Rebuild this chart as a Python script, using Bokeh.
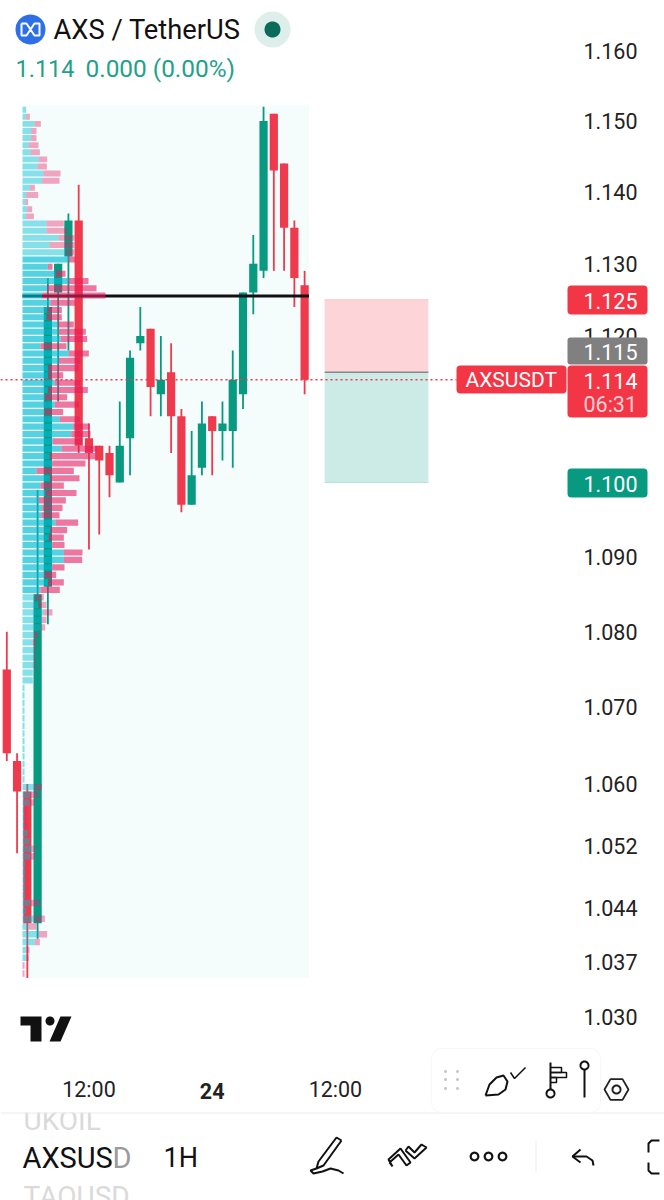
import math
from bokeh.plotting import figure
from bokeh.embed import file_html
from bokeh.resources import INLINE
from bokeh.models import (Range1d, FixedTicker, ColumnDataSource,
                          Label, BoxAnnotation, PolyAnnotation)

# ---- data ----
bar_index = list(range(30))
opens  = [1.075,1.063,1.059,1.042,1.086,1.126,1.131,1.136,1.106,1.105,1.104,1.100,1.106,1.119,1.121,1.112,1.115,1.109,1.097,1.102,1.109,1.107,1.107,1.112,1.126,1.129,1.151,1.144,1.135,1.127]
closes = [1.064,1.059,1.042,1.085,1.124,1.130,1.136,1.105,1.104,1.103,1.101,1.105,1.117,1.120,1.113,1.114,1.109,1.097,1.101,1.108,1.107,1.108,1.114,1.126,1.130,1.150,1.143,1.135,1.128,1.114]
highs  = [1.080,1.064,1.060,1.099,1.128,1.130,1.137,1.141,1.108,1.105,1.105,1.111,1.118,1.124,1.121,1.120,1.119,1.110,1.107,1.111,1.109,1.111,1.118,1.126,1.134,1.152,1.151,1.144,1.136,1.129]
lows   = [1.063,1.051,1.035,1.040,1.081,1.111,1.118,1.104,1.091,1.093,1.098,1.100,1.101,1.118,1.109,1.109,1.104,1.096,1.097,1.101,1.101,1.103,1.102,1.110,1.123,1.128,1.129,1.129,1.124,1.112]

vp_top_price = 1.152
vp_step = 0.001
vp_buy  = [11,11,36,26,26,19,25,49,45,63,59,22,11,9,14,11,72,72,109,81,129,139,76,99,139,74,59,84,74,72,
           106,109,114,54,139,109,77,77,97,76,67,97,66,112,152,146,91,117,82,89,42,82,54,69,49,59,56,99,84,79,
           89,124,124,89,66,77,54,37,47,62,58,56,34,31,34,34,34,31,31,6,6,6,6,6,6,6,6,6,6,6,6,6,
           34,24,22,6,6,6,16,22,29,24,9,9,9,9,9,24,12,34,19,49,37,12,12,0,0]
vp_sell = [0,11,19,16,16,29,27,25,28,51,52,15,36,8,15,23,52,62,47,75,27,20,14,30,59,148,190,75,44,46,
           48,81,80,78,60,65,92,45,77,120,67,72,56,60,49,58,88,107,137,100,112,89,70,93,81,61,55,68,50,45,
           37,56,55,37,35,47,58,27,25,28,14,12,13,10,5,5,5,0,0,0,0,0,0,0,0,0,0,0,0,0,0,0,
           25,25,14,6,6,6,0,0,10,13,3,3,3,3,3,28,0,33,23,25,15,9,7,6,6]
poc_price = 1.1255
last_price = 1.114
entry, stop, target = 1.115, 1.125, 1.100

price_ticks = [1.160,1.150,1.140,1.130,1.120,1.090,1.080,1.070,1.060,1.052,1.044,1.037,1.030]
time_ticks = [8, 32]
time_labels = ["12:00", "12:00"]

RED, GREEN = "#EE3A4C", "#089981"
FONT = "Roboto"

# ---- layout constants ----
W, H = 664, 1200
PX0, DX = 6.3, 10.27
def idx(px): return (px - PX0) / DX
def price_at(py): return 1.16 * math.exp(-(py - 50) / 8135)

p = figure(width=W, height=H, output_backend="svg", toolbar_location=None,
           x_range=Range1d(idx(0), idx(W)), y_range=Range1d(price_at(H), price_at(0)),
           y_axis_type="log", y_axis_location="right", x_axis_location="below",
           min_border_left=0, min_border_top=0, min_border_right=0, min_border_bottom=0,
           outline_line_color=None, background_fill_color="white", border_fill_color="white")
p.styles = {"position": "absolute", "left": "0px", "top": "0px"}
p.grid.visible = False
p.extra_x_ranges["vp"] = Range1d(-66, (W - 22) * 3)

ax = p.yaxis[0]
ax.fixed_location = idx(583)
ax.ticker = FixedTicker(ticks=price_ticks)
ax.major_label_overrides = {t: f"{t:.3f}" for t in price_ticks}
ax.axis_line_color = None
ax.major_tick_line_color = None
ax.major_tick_out = 0
ax.minor_tick_line_color = None
ax.major_label_standoff = 0
ax.major_label_text_font = FONT
ax.major_label_text_font_size = "21.5px"
ax.major_label_text_color = "#222222"

xa = p.xaxis[0]
xa.fixed_location = price_at(1074)
xa.ticker = FixedTicker(ticks=time_ticks)
xa.major_label_overrides = dict(zip(time_ticks, time_labels))
xa.axis_line_color = None
xa.major_tick_line_color = None
xa.major_tick_out = 0
xa.minor_tick_line_color = None
xa.major_label_standoff = 2
xa.major_label_text_font = FONT
xa.major_label_text_font_size = "21.5px"
xa.major_label_text_color = "#222222"

# background of the volume profile
p.quad(left=[idx(22)], right=[idx(308.5)], top=[vp_top_price + 0.0002], bottom=[1.035],
       fill_color="#F4FDFC", line_color=None)

# candles
cols = [GREEN if c >= o else RED for o, c in zip(opens, closes)]
src = ColumnDataSource(dict(x=bar_index, o=opens, c=closes, h=highs, l=lows, col=cols))
p.segment("x", "h", "x", "l", source=src, line_color="col", line_width=1.8)
p.vbar(x="x", top="o", bottom="c", width=0.8, source=src, fill_color="col", line_color=None)

# POC line
p.line([idx(22), idx(308.5)], [poc_price, poc_price], line_color="#111111", line_width=3)

# volume profile rows
tops = [vp_top_price - i * vp_step for i in range(len(vp_buy))]
bots = [t - 0.00083 for t in tops]
strong = [21 <= i <= 66 for i in range(len(vp_buy))]
vsrc = ColumnDataSource(dict(t=tops, b=bots,
                             zero=[0]*len(tops),
                             buy=vp_buy,
                             total=[a + b for a, b in zip(vp_buy, vp_sell)],
                             a1=[0.65 if s else 0.45 for s in strong],
                             a2=[0.60 if s else 0.40 for s in strong]))
p.quad(left="zero", right="buy", top="t", bottom="b", source=vsrc, x_range_name="vp",
       fill_color="#00BCD4", fill_alpha="a1", line_color=None)
p.quad(left="buy", right="total", top="t", bottom="b", source=vsrc, x_range_name="vp",
       fill_color="#E91E63", fill_alpha="a2", line_color=None)

# long position drawing
p.quad(left=[30.95], right=[41.05], top=[stop], bottom=[entry], fill_color="#FDD5D9", line_color=None)
p.quad(left=[30.95], right=[41.05], top=[entry], bottom=[target], fill_color="#CCEBE6", line_color=None)
p.line([30.95, 41.05], [stop, stop], line_color="#FBC4CA", line_width=1)
p.line([30.95, 41.05], [target, target], line_color="#B5E2DB", line_width=1)
p.line([30.95, 41.05], [entry, entry], line_color="#888888", line_width=1.5)

# last price line
p.line([idx(0), idx(456)], [last_price, last_price], line_color=RED, line_width=1.5, line_dash="2 3")

# ---- overlays in screen coordinates ----
UNITS = "canvas"
def box(x0, y0, x1, y1, color, line=None, radius=0, alpha=1):
    p.add_layout(BoxAnnotation(left=x0, right=x1, top=y0, bottom=y1,
                               left_units=UNITS, right_units=UNITS, top_units=UNITS, bottom_units=UNITS,
                               fill_color=color, fill_alpha=alpha, line_color=line, line_alpha=1,
                               border_radius=radius, level="overlay"))
def poly(pts, fill=None, line=None, lw=2):
    p.add_layout(PolyAnnotation(xs=[a for a, _ in pts], ys=[b for _, b in pts],
                                xs_units=UNITS, ys_units=UNITS,
                                fill_color=fill, fill_alpha=1 if fill else 0,
                                line_color=line, line_alpha=1, line_width=lw, level="overlay"))
def stroke(pts, color="#111111", lw=2):
    poly(pts + pts[-2:0:-1], None, color, lw)
def circle(cx, cy, r, fill=None, line=None, lw=2):
    pts = [(cx + r*math.cos(i*math.pi/18), cy + r*math.sin(i*math.pi/18)) for i in range(36)]
    poly(pts, fill, line, lw)
def text(x, y, s, color="#111111", size=21.5, align="left", weight="normal"):
    p.add_layout(Label(x=x, y=y, x_units=UNITS, y_units=UNITS, text=s, text_color=color,
                       text_font=FONT, text_font_size=f"{size}px", text_align=align,
                       text_baseline="middle", text_font_style=weight, level="overlay"))

# header
circle(30, 29, 15, "#2E6FE6")
stroke([(21,23),(26,23),(34,35),(39,35),(39,23),(34,23),(26,35),(21,35),(21,23)], "white", 2)
text(53, 29, "AXS / TetherUS", "#111111", 27.3)
circle(272, 29, 18, "#DDEEEB")
circle(272, 29, 8, "#0B6B5B")
text(15, 68, "1.114", "#1FA18A", 23.5)
text(85, 68, "0.000 (0.00%)", "#1FA18A", 24.4)

# price tags
box(567, 285, 647, 314, "#F23645", radius=4)
text(583, 300, "1.125", "white")
box(567, 337, 647, 364, "#808080", radius=3)
text(583, 351, "1.115", "white")
box(456, 365, 566, 393, "#F23645", radius=4)
text(465, 379, "AXSUSDT", "white", 21)
box(567, 365, 647, 417, "#F23645", radius=4)
text(583, 380, "1.114", "white")
text(583, 404, "06:31", "#FBD0D6")
box(567, 468, 647, 497, GREEN, radius=4)
text(583, 483, "1.100", "white")

# TradingView logo
poly([(20,1016),(41,1016),(41,1041),(30,1041),(30,1025),(20,1025)], "#111111")
circle(49.5, 1020.5, 4.5, "#111111")
poly([(60,1016),(71,1016),(60,1041),(49,1041)], "#111111")

# bold date tick
p.add_layout(Label(x=20, y=1090, x_units="data", y_units=UNITS, text="24", text_color="#222222",
                   text_font=FONT, text_font_size="21.5px", text_font_style="bold",
                   text_align="center", text_baseline="middle", level="overlay"))

# bottom bar
text(23, 1120, "UKOIL", "#DADADA", 28)
box(0, 1100, 431, 1112, "white")
box(0, 1112, 664, 1113, "#EBEBEB")
text(22, 1157, "AXSUS", "#111111", 29)
text(112, 1157, "D", "#9A9A9A", 29)
text(163, 1157, "1H", "#111111", 27)
text(23, 1196, "TAOUSD", "#DADADA", 28)

# floating tool panel
box(431, 1048, 600, 1112, "white", line="#F7F7F7", radius=10)
for x in (445, 457):
    for y in (1071, 1079, 1088):
        circle(x, y, 1.5, "#C8C8C8")
stroke([(485,1095),(489,1084),(496,1077),(503,1075),(507,1081),(505,1089),(498,1094),(485,1095)])
stroke([(510,1072),(514,1078),(525,1067)], lw=1.5)
stroke([(550,1062),(550,1089)])
circle(550, 1093, 4, None, "#111111")
stroke([(550,1067),(561,1067),(561,1072),(550,1072)], lw=1.5)
stroke([(550,1072),(566,1072),(566,1077),(550,1077)], lw=1.5)
stroke([(550,1077),(556,1077),(556,1082),(550,1082)], lw=1.5)
circle(584, 1065, 4, None, "#111111")
stroke([(584,1069),(584,1097)])
hexagon = [(616+12*math.cos(i*math.pi/3), 1089+12*math.sin(i*math.pi/3)) for i in range(6)]
poly(hexagon, None, "#222222", 1.8)
circle(616, 1089, 4, None, "#222222")

# bottom toolbar icons
stroke([(341,1140),(336,1137),(318,1161),(316,1168),(323,1165),(341,1140)])
stroke([(316,1168),(310,1170),(313,1173),(322,1171),(330,1168),(338,1170),(343,1173)])
stroke([(389,1162),(398,1154),(406,1165),(410,1162),(400,1148),(388,1159),(392,1166),(389,1162)])
stroke([(405,1150),(414,1158),(426,1147),(421,1144),(414,1152),(408,1146),(405,1150)])
for x in (474, 488, 502):
    circle(x, 1156, 3.8, None, "#111111", 2.2)
box(535, 1140, 536, 1172, "#EEEEEE")
stroke([(580,1149),(572,1156),(580,1162)])
stroke([(572,1156),(586,1156),(592,1160),(593,1165)])
stroke([(659,1140),(651,1140),(648,1143),(648,1152)])
stroke([(648,1162),(648,1170),(651,1173),(659,1173)])

open("out.html", "w").write(file_html(p, INLINE))
